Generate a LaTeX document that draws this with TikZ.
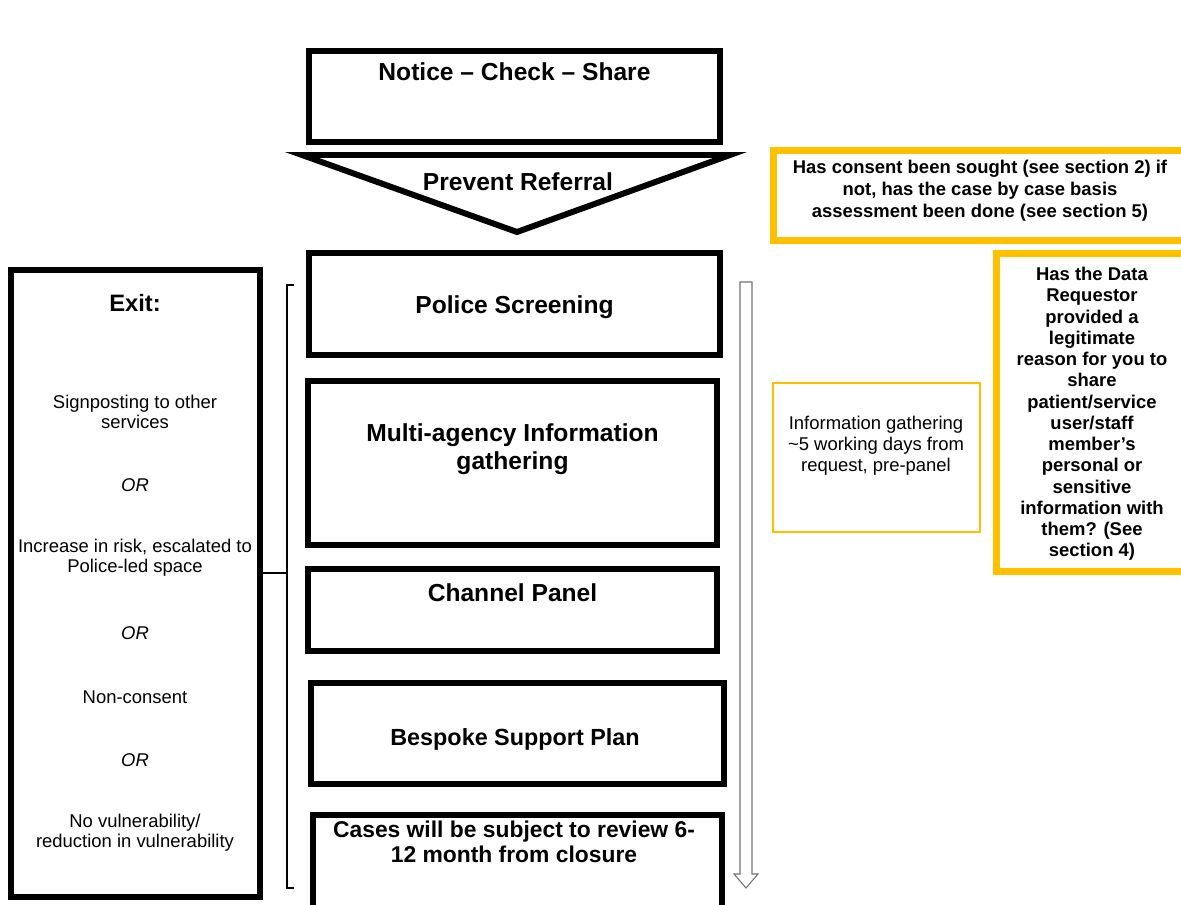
\documentclass[tikz,border=0pt]{standalone}
\usepackage{fontspec}
\setmainfont{Liberation Sans}
\usetikzlibrary{fit}
\definecolor{myyellow}{RGB}{255,192,0}
\colorlet{mygrey}{black!55}

\begin{document}
\begin{tikzpicture}[x=0.02cm, y=-0.02cm]
    % ------- style -------
    \tikzset{%
        stage/.style={draw, line width=3.4pt, inner sep=0pt},
        stage label/.style={inner sep=0pt, align=center, font=\bfseries\fontsize{14}{16}\selectfont},
        note/.style={draw=myyellow, line width=3.8pt, inner sep=0pt},
        note thin/.style={draw=myyellow, line width=1.1pt, inner sep=0pt},
        note label/.style={inner sep=0pt, align=center, font=\bfseries\fontsize{10.5}{12.6}\selectfont},
        exit label/.style={inner sep=0pt, align=center, font=\fontsize{10.5}{11.5}\selectfont},
        link/.style={line width=1.7pt},
        timeline/.style={draw=mygrey, line width=0.6pt, fill=white, line join=miter},
    }
    \useasboundingbox (0,0) rectangle (1181,905);
    \clip (0,0) rectangle (1181,905);

    % ------- referral -------
    \node[stage, fit={(309,51) (720,142)}] (notice) {};
    \node[stage label] (notice-label) at (514.5,72) {Notice – Check – Share};

    \draw[stage, line join=miter] (302,155) -- (730,155) -- (517,232) -- cycle;
    \node[stage label] (referral) at (518,182) {Prevent Referral};

    % ------- stages -------
    \node[stage, fit={(309,253) (720,355)}] (police) {};
    \node[stage label] (police-label) at (514.5,307) {Police Screening};

    \node[stage, fit={(308,381) (717,545)}] (multi) {};
    \node[stage label] (multi-label) at (512.5,449) {Multi-agency Information\\gathering};

    \node[stage, fit={(308,569) (717,651)}] (panel) {};
    \node[stage label] (panel-label) at (512.5,593) {Channel Panel};

    \node[stage, fit={(311,683) (724,784)}] (plan) {};
    \node[stage label, font=\bfseries\fontsize{13.3}{16}\selectfont] (plan-label) at (515,739) {Bespoke Support Plan};

    \node[stage, fit={(313,815) (722,930)}] (review) {};
    \node[stage label, font=\bfseries\fontsize{13}{14.5}\selectfont] (review-label) at (514,842) {Cases will be subject to review 6-\\12 month from closure};

    % ------- exit -------
    \node[stage, fit={(11,270) (260,897)}] (exit) {};
    \node[stage label, font=\bfseries\fontsize{13.5}{16}\selectfont] (exit-title) at (135,303) {Exit:};
    \node[exit label] (exit-1) at (135,412) {Signposting to other\\services};
    \node[exit label, font=\itshape\fontsize{10.5}{11.5}\selectfont] (or-1) at (135,485) {OR};
    \node[exit label] (exit-2) at (135,558) {Increase in risk, escalated to\\Police-led space};
    \node[exit label, font=\itshape\fontsize{10.5}{11.5}\selectfont] (or-2) at (135,633) {OR};
    \node[exit label] (exit-3) at (135,697) {Non-consent};
    \node[exit label, font=\itshape\fontsize{10.5}{11.5}\selectfont] (or-3) at (135,760) {OR};
    \node[exit label] (exit-4) at (135,833) {No vulnerability/\\reduction in vulnerability};

    % ------- bracket -------
    \coordinate (brace-top) at (287,285);
    \coordinate (brace-bot) at (287,888);
    \coordinate (brace-mid) at (287,573);
    \draw[link] (brace-top) ++(7,0) -- (brace-top) -- (brace-bot) -- ++(7,0);
    \draw[link] (exit.east |- brace-mid) -- (brace-mid);

    % ------- timeline -------
    \draw[timeline] (740,282) -- (752,282) -- (752,874) -- (758,874) -- (746,888) -- (734,874) -- (740,874) -- cycle;

    % ------- notes -------
    \node[note, fit={(773.5,150.5) (1190,240.5)}] (consent) {};
    \node[note label] (consent-label) at (980,191) {Has consent been sought (see section 2) if\\not, has the case by case basis\\assessment been done (see section 5)};

    \node[note, fit={(996.5,253.5) (1190,571.5)}] (reason) {};
    \node[note label, font=\bfseries\fontsize{10.5}{12.1}\selectfont] (reason-label) at (1092,414) {Has the Data\\Requestor\\provided a\\legitimate\\reason for you to\\share\\patient/service\\user/staff\\member’s\\personal or\\sensitive\\information with\\them? (See\\section 4)};

    \node[note thin, fit={(773,383) (980,532)}] (gather) {};
    \node[exit label, font=\fontsize{10.5}{11.9}\selectfont] (gather-label) at (876,446) {Information gathering\\\textasciitilde5 working days from\\request, pre-panel};
\end{tikzpicture}
\end{document}
